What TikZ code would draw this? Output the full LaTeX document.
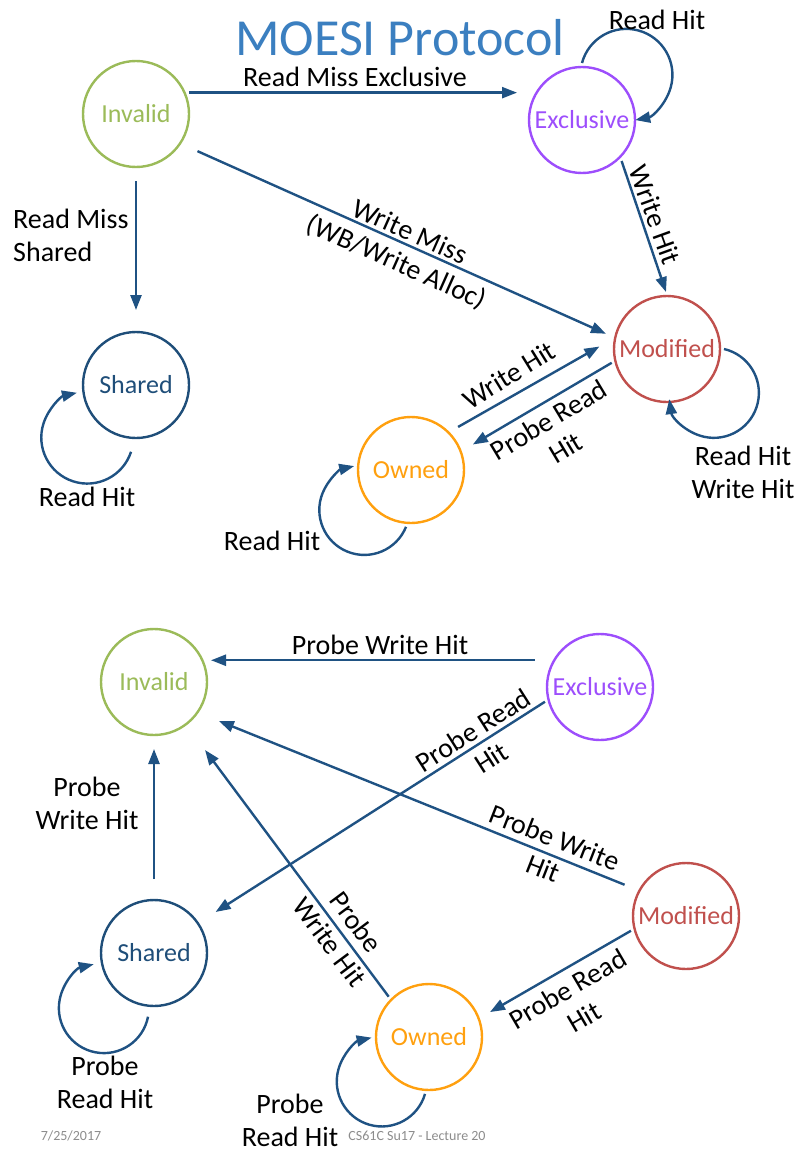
\documentclass[tikz,border=0pt]{standalone}
\usepackage{fontspec}
\setmainfont{Carlito}
\usetikzlibrary{arrows.meta,positioning,calc}
\definecolor{Flow}{HTML}{1F5283}
\definecolor{Title}{HTML}{3B7FC0}
\definecolor{Inv}{HTML}{9BBB59}
\definecolor{Excl}{HTML}{9D4EFC}
\definecolor{Modi}{HTML}{C0504D}
\definecolor{Shar}{HTML}{1F4E79}
\definecolor{Own}{HTML}{FFA00F}
\definecolor{Foot}{HTML}{8C8C8C}
\tikzset{
  state/.style={circle,draw=#1,text=#1,line width=2.4pt,minimum size=106pt,inner sep=0pt,outer sep=4pt,font=\fontsize{26}{30}\selectfont},
  flow/.style={-{Triangle[length=15pt,width=11pt]},draw=Flow,line width=2.4pt},
  lbl/.style={font=\fontsize{28}{33}\selectfont,align=center,inner sep=0pt},
  foot/.style={font=\fontsize{14}{16}\selectfont,text=Foot,inner sep=0pt}
}
\begin{document}
\begin{tikzpicture}[x=1pt,y=-1pt]
      \useasboundingbox (0,0) rectangle (797,1153);
      \node[font=\fontsize{52}{56}\selectfont,text=Title,inner sep=0pt] (ttl) at (400,38) {MOESI Protocol};
      \node[state=Inv] (inv) at (136,114) {Invalid};
      \node[state=Excl] (ex) at (582,120) {Exclusive};
      \node[state=Modi] (mod) at (667,349) {Modified};
      \node[state=Shar] (sh) at (136,385) {Shared};
      \node[state=Own] (own) at (411,470) {Owned};
      \draw[flow,shorten >=8pt] (inv.22) -- (inv.22 -| ex.west);
      \draw[flow,shorten <=10pt,shorten >=18pt] (inv.south) -- (sh.north);
      \draw[flow,shorten <=15pt,shorten >=6pt] (inv.-33) -- (mod.167);
      \draw[flow] (ex.-46) -- (mod.91);
      \draw[flow,shorten <=7pt,shorten >=13pt] (own.44) -- (mod.171);
      \draw[flow,shorten >=10pt] (mod.194) -- (own.21);
      \draw[flow] (ex.90) arc[start angle=195,end angle=439,radius=46];
      \draw[flow] (mod.0) arc[start angle=-77,end angle=172,radius=45];
      \draw[flow] ([shift={(0,10)}]sh.-95) arc[start angle=18,end angle=257,radius=46];
      \draw[flow] (own.-95) arc[start angle=22,end angle=257,radius=45];
      \node[lbl] (l1) at (355,77) {Read Miss Exclusive};
      \node[lbl,align=left,anchor=west] (l2) at (13,235) {Read Miss\\Shared};
      \node[lbl,rotate=-24] (l3) at (403,248) {Write Miss\\(WB/Write Alloc)};
      \node[lbl,rotate=-70] (l4) at (655,215) {Write Hit};
      \node[lbl] (l5) at (657,20) {Read Hit};
      \node[lbl,rotate=31.7] (l6) at (509,375) {Write Hit};
      \node[lbl,rotate=31] (l7) at (557,434) {Probe Read\\Hit};
      \node[lbl] (l8) at (743,472) {Read Hit\\Write Hit};
      \node[lbl] (l9) at (87,497) {Read Hit};
      \node[lbl] (l10) at (272,541) {Read Hit};
      \node[state=Inv] (inv2) at (154,682) {Invalid};
      \node[state=Excl] (ex2) at (600,687) {Exclusive};
      \node[state=Modi] (mod2) at (686,916) {Modified};
      \node[state=Shar] (sh2) at (154,953) {Shared};
      \node[state=Own] (own2) at (429,1037) {Owned};
      \draw[flow,shorten <=15pt] (ex2.152) -- (ex2.152 -| inv2.east);
      \draw[flow,shorten >=17pt] (ex2.195) -- (sh2.34);
      \draw[flow,shorten <=12pt,shorten >=19pt] (mod2.152) -- (inv2.-34);
      \draw[flow,shorten <=17pt,shorten >=10pt] (sh2.north) -- (inv2.south);
      \draw[flow,shorten >=28pt] (own2.135) -- (inv2.-53);
      \draw[flow,shorten >=9pt] (mod2.195) -- (own2.21);
      \draw[flow] ([shift={(0,7)}]sh2.-96) arc[start angle=11,end angle=257,radius=45];
      \draw[flow] (own2.-94) arc[start angle=16,end angle=257,radius=45];
      \node[lbl] (m1) at (380,645) {Probe Write Hit};
      \node[lbl,rotate=32.5] (m2) at (482,744) {Probe Read\\Hit};
      \node[lbl,rotate=-21.3] (m3) at (549,853) {Probe Write\\Hit};
      \node[lbl] (m4) at (87,803) {Probe\\Write Hit};
      \node[lbl,rotate=-53.3] (m5) at (343,932) {Probe\\Write Hit};
      \node[lbl,rotate=30.4] (m6) at (576,1003) {Probe Read\\Hit};
      \node[lbl] (m7) at (105,1082) {Probe\\Read Hit};
      \node[lbl] (m8) at (290,1120) {Probe\\Read Hit};
      \node[foot] (f1) at (71,1136) {7/25/2017};
      \node[foot] (f2) at (417,1136) {CS61C Su17 - Lecture 20};
    \end{tikzpicture}
\end{document}
